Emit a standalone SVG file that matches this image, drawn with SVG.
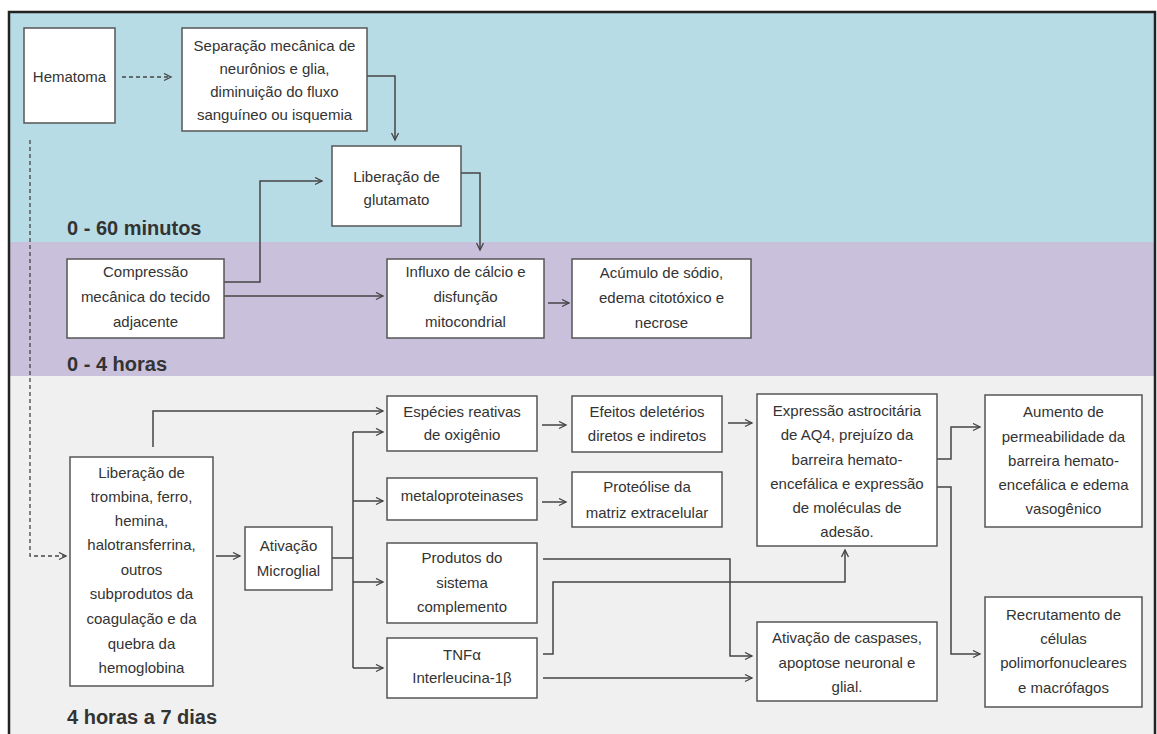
<svg xmlns="http://www.w3.org/2000/svg" width="1157" height="734" viewBox="0 0 1157 734">
<style>
.box{fill:#fff;stroke:#555;stroke-width:1.5}
.t{font-family:"Liberation Sans",Arial,sans-serif;font-size:15px;fill:#333;text-anchor:middle}
.lbl{font-family:"Liberation Sans",Arial,sans-serif;font-size:20px;font-weight:bold;fill:#333}
.c{fill:none;stroke:#444;stroke-width:1.5}
.d{fill:none;stroke:#444;stroke-width:1.3;stroke-dasharray:4 3}
</style>
<defs>
<marker id="a" markerWidth="10" markerHeight="10" refX="8" refY="4" orient="auto" markerUnits="userSpaceOnUse">
<path d="M1,0.5 L8,4 L1,7.5" fill="none" stroke="#444" stroke-width="1.3"/>
</marker>
</defs>
<rect x="0" y="0" width="1157" height="734" fill="#fff"/>
<g id="bands">
<rect x="9" y="12" width="1146" height="230" fill="#b8dce6"/>
<rect x="9" y="242" width="1146" height="134" fill="#c9c0dc"/>
<rect x="9" y="376" width="1146" height="360" fill="#f0f0f0"/>
<rect x="9" y="12" width="1146" height="740" fill="none" stroke="#222" stroke-width="2.5"/>
<text class="lbl" x="67" y="235">0 - 60 minutos</text>
<text class="lbl" x="67" y="371">0 - 4 horas</text>
<text class="lbl" x="67" y="724">4 horas a 7 dias</text>
</g>
<g id="connectors">
<path class="d" d="M122,77 H171" marker-end="url(#a)"/>
<path class="d" d="M30,140 V556 H66" marker-end="url(#a)"/>
<path class="c" d="M367,76 H395 V140" marker-end="url(#a)"/>
<path class="c" d="M461,173 H480 V250" marker-end="url(#a)"/>
<path class="c" d="M224,282 H260 V181 H322" marker-end="url(#a)"/>
<path class="c" d="M224,296 H383" stroke-width="2.4" marker-end="url(#a)"/>
<path class="c" d="M548,303 H569" marker-end="url(#a)"/>
<path class="c" d="M153,447 V411 H383" marker-end="url(#a)"/>
<path class="c" d="M216,556 H240" marker-end="url(#a)"/>
<path class="c" d="M332,558 H353"/>
<path class="c" d="M353,432 V668"/>
<path class="c" d="M353,432 H383" marker-end="url(#a)"/>
<path class="c" d="M353,501 H383" marker-end="url(#a)"/>
<path class="c" d="M353,582 H383" marker-end="url(#a)"/>
<path class="c" d="M353,668 H383" marker-end="url(#a)"/>
<path class="c" d="M542,425 H566" marker-end="url(#a)"/>
<path class="c" d="M542,502 H566" marker-end="url(#a)"/>
<path class="c" d="M728,423 H752" marker-end="url(#a)"/>
<path class="c" d="M543,559 H730 V656 H752" marker-end="url(#a)"/>
<path class="c" d="M543,654 H553 V582 H845 V550" marker-end="url(#a)"/>
<path class="c" d="M543,678 H752" marker-end="url(#a)"/>
<path class="c" d="M937,459 H951 V427 H980" marker-end="url(#a)"/>
<path class="c" d="M937,487 H951 V654 H980" marker-end="url(#a)"/>
</g>
<g id="hematoma"><rect class="box" x="24" y="28" width="91" height="95"/><text class="t" x="69.5" y="82">Hematoma</text></g>
<g id="separacao"><rect class="box" x="182" y="28" width="185" height="103"/>
<text class="t" x="274.5" y="51">Separação mecânica de</text>
<text class="t" x="274.5" y="74">neurônios e glia,</text>
<text class="t" x="274.5" y="97">diminuição do fluxo</text>
<text class="t" x="274.5" y="120">sanguíneo ou isquemia</text></g>
<g id="glutamato"><rect class="box" x="332" y="146" width="129" height="80"/>
<text class="t" x="396.5" y="182">Liberação de</text>
<text class="t" x="396.5" y="205">glutamato</text></g>
<g id="compressao"><rect class="box" x="67" y="259" width="157" height="79"/>
<text class="t" x="145.5" y="277">Compressão</text>
<text class="t" x="145.5" y="302">mecânica do tecido</text>
<text class="t" x="145.5" y="327">adjacente</text></g>
<g id="influxo"><rect class="box" x="387" y="259" width="157" height="79"/>
<text class="t" x="465.5" y="277">Influxo de cálcio e</text>
<text class="t" x="465.5" y="302">disfunção</text>
<text class="t" x="465.5" y="327">mitocondrial</text></g>
<g id="acumulo"><rect class="box" x="572" y="259" width="179" height="79"/>
<text class="t" x="661.5" y="278">Acúmulo de sódio,</text>
<text class="t" x="661.5" y="303">edema citotóxico e</text>
<text class="t" x="661.5" y="328">necrose</text></g>
<g id="trombina"><rect class="box" x="70" y="457" width="143" height="229"/>
<text class="t" x="141.5" y="478">Liberação de</text>
<text class="t" x="141.5" y="502">trombina, ferro,</text>
<text class="t" x="141.5" y="526">hemina,</text>
<text class="t" x="141.5" y="550">halotransferrina,</text>
<text class="t" x="141.5" y="575">outros</text>
<text class="t" x="141.5" y="599">subprodutos da</text>
<text class="t" x="141.5" y="624">coagulação  e da</text>
<text class="t" x="141.5" y="649">quebra da</text>
<text class="t" x="141.5" y="673">hemoglobina</text></g>
<g id="microglial"><rect class="box" x="245" y="527" width="87" height="63"/>
<text class="t" x="288.5" y="551">Ativação</text>
<text class="t" x="288.5" y="576">Microglial</text></g>
<g id="especies"><rect class="box" x="387" y="396" width="150" height="55"/>
<text class="t" x="462" y="417">Espécies reativas</text>
<text class="t" x="462" y="440">de oxigênio</text></g>
<g id="efeitos"><rect class="box" x="572" y="396" width="150" height="56"/>
<text class="t" x="647" y="417">Efeitos deletérios</text>
<text class="t" x="647" y="441">diretos e indiretos</text></g>
<g id="metalo"><rect class="box" x="387" y="478" width="150" height="42"/>
<text class="t" x="462" y="501">metaloproteinases</text></g>
<g id="proteolise"><rect class="box" x="572" y="472" width="150" height="55"/>
<text class="t" x="647" y="492">Proteólise da</text>
<text class="t" x="647" y="518">matriz extracelular</text></g>
<g id="produtos"><rect class="box" x="387" y="543" width="150" height="80"/>
<text class="t" x="462" y="563">Produtos do</text>
<text class="t" x="462" y="588">sistema</text>
<text class="t" x="462" y="612">complemento</text></g>
<g id="tnf"><rect class="box" x="387" y="638" width="150" height="60"/>
<text class="t" x="462" y="660">TNFα</text>
<text class="t" x="462" y="683">Interleucina-1β</text></g>
<g id="expressao"><rect class="box" x="757" y="394" width="180" height="152"/>
<text class="t" x="847" y="416">Expressão astrocitária</text>
<text class="t" x="847" y="440">de AQ4, prejuízo da</text>
<text class="t" x="847" y="465">barreira hemato-</text>
<text class="t" x="847" y="489">encefálica e expressão</text>
<text class="t" x="847" y="513">de moléculas de</text>
<text class="t" x="847" y="537">adesão.</text></g>
<g id="caspases"><rect class="box" x="757" y="622" width="180" height="79"/>
<text class="t" x="847" y="643">Ativação de caspases,</text>
<text class="t" x="847" y="668">apoptose neuronal e</text>
<text class="t" x="847" y="692">glial.</text></g>
<g id="aumento"><rect class="box" x="985" y="395" width="157" height="132"/>
<text class="t" x="1063.5" y="417">Aumento de</text>
<text class="t" x="1063.5" y="442">permeabilidade da</text>
<text class="t" x="1063.5" y="466">barreira hemato-</text>
<text class="t" x="1063.5" y="490">encefálica e edema</text>
<text class="t" x="1063.5" y="514">vasogênico</text></g>
<g id="recrutamento"><rect class="box" x="985" y="597" width="157" height="110"/>
<text class="t" x="1063.5" y="620">Recrutamento de</text>
<text class="t" x="1063.5" y="644">células</text>
<text class="t" x="1063.5" y="668">polimorfonucleares</text>
<text class="t" x="1063.5" y="693">e macrófagos</text></g>
</svg>
